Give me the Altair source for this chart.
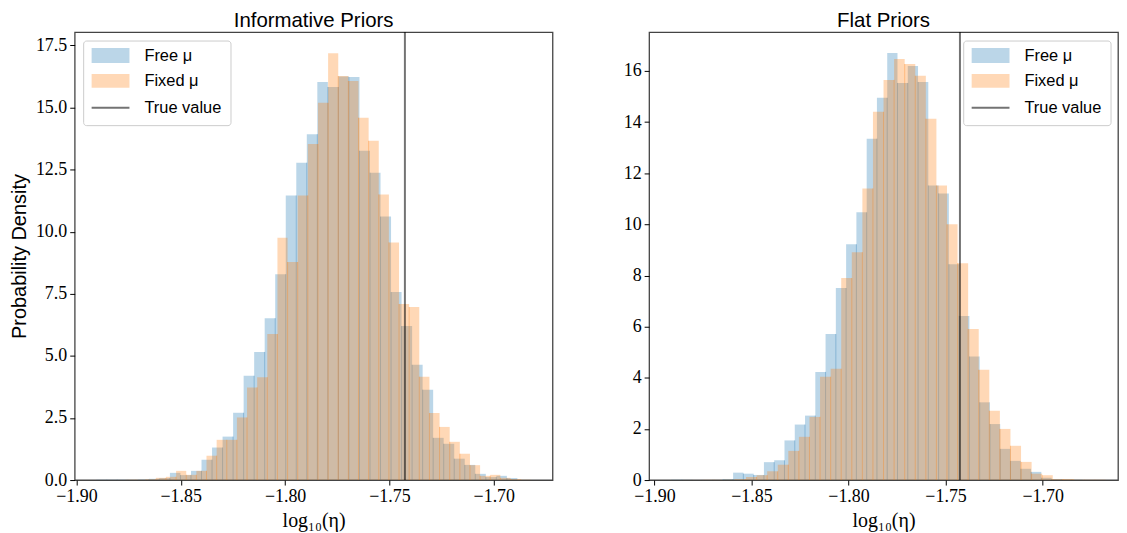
import altair as alt
import pandas as pd

# ---------------- data ----------------
title_left = "Informative Priors"
title_right = "Flat Priors"
x_title = "log₁₀(η)"
y_title = "Probability Density"
legend_labels = ["Free μ", "Fixed μ", "True value"]
true_value = -1.7426

x_ticks = [-1.90, -1.85, -1.80, -1.75, -1.70]
left_y_ticks = [0, 2.5, 5, 7.5, 10, 12.5, 15, 17.5]
right_y_ticks = [0, 2, 4, 6, 8, 10, 12, 14, 16]

# histogram bins: first edge and bin width (log10 eta units), 40 bins each
left_free_start, left_free_width = -1.8905, 0.005045
left_fixed_start, left_fixed_width = -1.8765, 0.004855
right_free_start, right_free_width = -1.8912, 0.005292
right_fixed_start, right_fixed_width = -1.8855, 0.005449

left_free = [0.01, 0.01, 0.01, 0.005, 0.02, 0.05, 0.08, 0.29, 0.20, 0.37,
             0.82, 1.31, 1.75, 2.71, 4.20, 5.16, 6.52, 8.29, 11.46, 12.78,
             13.93, 16.03, 15.83, 16.25, 16.23, 13.26, 12.38, 10.61, 7.57, 6.20,
             4.64, 3.64, 1.70, 1.46, 0.86, 0.61, 0.25, 0.12, 0.17, 0.08]
left_fixed = [0.01, 0.01, 0.03, 0.09, 0.13, 0.37, 0.21, 0.37, 0.98, 1.62,
              1.62, 2.52, 3.73, 4.14, 5.88, 9.76, 8.78, 11.46, 13.53, 15.19,
              17.19, 16.27, 16.07, 14.59, 13.66, 11.50, 9.57, 7.09, 6.97, 4.16,
              2.70, 2.14, 1.54, 1.06, 0.60, 0.17, 0.21, 0.09, 0.04, 0.01]
right_free = [0.01, 0.01, 0.005, 0.005, 0.01, 0.04, 0.29, 0.25, 0.20, 0.70,
              0.77, 1.55, 2.17, 2.52, 4.23, 5.71, 7.51, 9.22, 10.47, 13.35,
              14.95, 16.70, 15.53, 16.19, 15.57, 11.52, 11.21, 8.44, 6.42, 4.83,
              3.04, 2.19, 1.22, 0.75, 0.44, 0.32, 0.09, 0.04, 0.02, 0.01]
right_fixed = [0.005, 0.005, 0.01, 0.01, 0.02, 0.04, 0.12, 0.19, 0.34, 0.60,
               1.14, 1.69, 2.47, 4.04, 4.35, 7.90, 8.91, 11.40, 14.40, 15.65,
               16.47, 16.27, 15.81, 14.13, 11.52, 10.00, 8.48, 5.91, 4.31, 2.71,
               2.00, 1.34, 0.71, 0.25, 0.19, 0.04, 0.04, 0.01, 0.01, 0.01]

# ---------------- styling ----------------
BLUE = "#1f77b4"
ORANGE = "#ff7f0e"
SANS = "Liberation Sans"
SERIF = "Liberation Serif"
VIEW_H = 450


def hist_df(start, width, heights):
    n = len(heights)
    return pd.DataFrame({
        "lo": [start + i * width for i in range(n)],
        "hi": [start + (i + 1) * width for i in range(n)],
        "h": heights,
    })


def seam_df(start, width, heights):
    return pd.DataFrame({
        "edge": [start + i * width for i in range(1, len(heights))],
        "top": [min(heights[i - 1], heights[i]) for i in range(1, len(heights))],
    })


def panel(title, free, fixed, xdom, ydom, yticks, yfmt, view_w, legend_left, with_ytitle):
    fs, fw, free_h = free
    os_, ow, fixed_h = fixed
    xs = alt.Scale(domain=xdom, nice=False, zero=False)
    ys = alt.Scale(domain=ydom, nice=False, zero=False)
    xaxis = alt.Axis(values=x_ticks, format=".2f", title=x_title, grid=False, domain=False,
                     labelFont=SERIF, labelFontSize=18, labelColor="black", labelPadding=3,
                     tickSize=5, tickColor="black", tickWidth=1,
                     titleFont=SERIF, titleFontSize=20, titleFontWeight="normal",
                     titleColor="black", titlePadding=5)
    yaxis = alt.Axis(values=yticks, format=yfmt, title=y_title if with_ytitle else None,
                     grid=False, domain=False,
                     labelFont=SERIF, labelFontSize=18, labelColor="black", labelPadding=3,
                     tickSize=5, tickColor="black", tickWidth=1,
                     titleFont=SANS, titleFontSize=20, titleFontWeight="normal",
                     titleColor="black", titlePadding=6)

    def bars(df, color):
        return alt.Chart(df).mark_rect(color=color, opacity=0.3).encode(
            x=alt.X("lo:Q", scale=xs, axis=xaxis),
            x2="hi:Q",
            y=alt.Y("h:Q", scale=ys, axis=yaxis),
            y2=alt.datum(0),
        )

    def seams(df, color):
        return alt.Chart(df).mark_rule(color=color, opacity=0.35, strokeWidth=1).encode(
            x=alt.X("edge:Q", scale=xs, axis=xaxis),
            y=alt.Y("top:Q", scale=ys, axis=yaxis),
            y2=alt.datum(0),
        )

    truth = alt.Chart(pd.DataFrame({"t": [true_value]})).mark_rule(
        color="black", opacity=0.55, strokeWidth=2).encode(
        x=alt.X("t:Q", scale=xs, axis=xaxis))

    one = pd.DataFrame({"a": [0]})
    bx, by = legend_left, 9
    box = alt.Chart(one).mark_rect(fill="white", fillOpacity=0.8, stroke="#cccccc",
                                    strokeWidth=1, cornerRadius=3).encode(
        x=alt.value(bx), x2=alt.value(bx + 148), y=alt.value(by), y2=alt.value(by + 85))
    p1 = alt.Chart(one).mark_rect(color=BLUE, opacity=0.3).encode(
        x=alt.value(bx + 8), x2=alt.value(bx + 46), y=alt.value(by + 7), y2=alt.value(by + 22))
    p2 = alt.Chart(one).mark_rect(color=ORANGE, opacity=0.3).encode(
        x=alt.value(bx + 8), x2=alt.value(bx + 46), y=alt.value(by + 33), y2=alt.value(by + 47))
    ln = alt.Chart(one).mark_rule(color="black", opacity=0.55, strokeWidth=2).encode(
        x=alt.value(bx + 8), x2=alt.value(bx + 46), y=alt.value(by + 67))
    texts = []
    for lab, yy in zip(legend_labels, [15, 40.5, 67]):
        texts.append(alt.Chart(one).mark_text(align="left", baseline="middle", font=SANS,
                                              fontSize=16.5, color="black").encode(
            x=alt.value(bx + 61), y=alt.value(by + yy), text=alt.value(lab)))

    layers = [bars(hist_df(fs, fw, free_h), BLUE),
              seams(seam_df(fs, fw, free_h), BLUE),
              bars(hist_df(os_, ow, fixed_h), ORANGE),
              seams(seam_df(os_, ow, fixed_h), ORANGE),
              truth, box, p1, p2, ln] + texts
    return alt.layer(*layers).properties(
        width=view_w, height=VIEW_H,
        title=alt.TitleParams(title, font=SANS, fontSize=20.5, fontWeight="normal",
                              color="black", offset=0),
    )


RIGHT_W = 471
left = panel(title_left,
             (left_free_start, left_free_width, left_free),
             (left_fixed_start, left_fixed_width, left_fixed),
             [-1.90081, -1.67186], [0, 18.04], left_y_ticks, ".1f", 480, 9, True)
right = panel(title_right,
              (right_free_start, right_free_width, right_free),
              (right_fixed_start, right_fixed_width, right_fixed),
              [-1.90272, -1.90272 + RIGHT_W / 1950], [0, 17.52], right_y_ticks, "d",
              RIGHT_W, RIGHT_W - 7 - 148, False)

chart = alt.hconcat(left, right, spacing=69).properties(
    padding={"left": 0, "top": 0, "right": 0, "bottom": 0}
).configure_view(stroke="#444444", strokeWidth=1.3)

chart.save("out.html", embed_options={"renderer": "svg", "actions": False})
